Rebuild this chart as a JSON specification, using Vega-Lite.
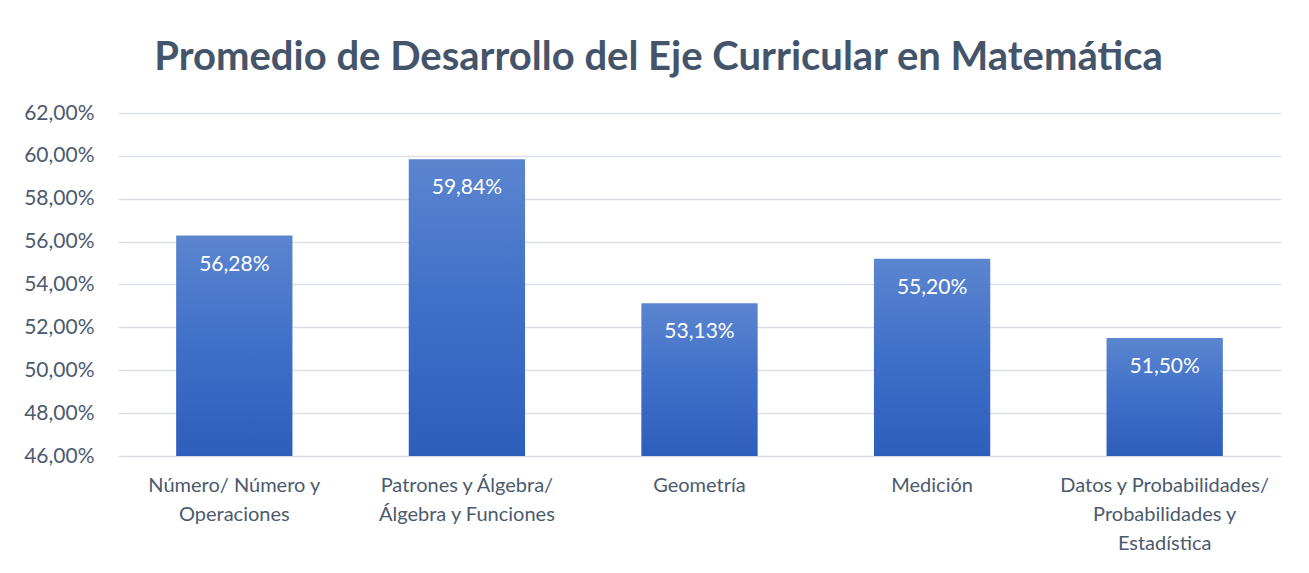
{
  "$schema": "https://vega.github.io/schema/vega-lite/v6.json",
  "autosize": {"type": "none"},
  "width": 1163,
  "height": 343,
  "padding": {"left": 118, "top": 113, "right": 28, "bottom": 117},
  "background": "white",
  "config": {
    "locale": {"number": {"decimal": ",", "thousands": ".", "grouping": [3], "currency": ["", " €"]}},
    "view": {"stroke": null},
    "font": "Lato"
  },
  "title": {
    "text": "Promedio de Desarrollo del Eje Curricular en Matemática",
    "font": "Lato",
    "fontSize": 40,
    "fontWeight": "bold",
    "color": "#44546A",
    "anchor": "middle",
    "baseline": "alphabetic",
    "offset": -8,
    "dx": -41
  },
  "data": {
    "values": [
      {"eje": "Número/ Número y|Operaciones", "promedio": 0.5628},
      {"eje": "Patrones y Álgebra/|Álgebra y Funciones", "promedio": 0.5984},
      {"eje": "Geometría", "promedio": 0.5313},
      {"eje": "Medición", "promedio": 0.552},
      {"eje": "Datos y Probabilidades/|Probabilidades y|Estadística", "promedio": 0.515}
    ]
  },
  "encoding": {
    "x": {
      "field": "eje",
      "type": "nominal",
      "sort": null,
      "scale": {"paddingInner": 0.5, "paddingOuter": 0.25},
      "axis": {
        "title": null,
        "labelAngle": 0,
        "labelExpr": "split(datum.label, '|')",
        "labelFont": "Lato",
        "labelFontSize": 20,
        "labelColor": "#4B5A6E",
        "labelLineHeight": 29,
        "labelPadding": 19,
        "labelBaseline": "top",
        "domain": false,
        "ticks": false,
        "labelLimit": 300
      }
    },
    "y": {
      "field": "promedio",
      "type": "quantitative",
      "scale": {"domain": [0.46, 0.62], "zero": false, "nice": false},
      "axis": {
        "title": null,
        "values": [0.46, 0.48, 0.5, 0.52, 0.54, 0.56, 0.58, 0.6, 0.62],
        "format": ".2%",
        "labelFont": "Lato",
        "labelFontSize": 21,
        "labelColor": "#4B5A6E",
        "labelPadding": 24,
        "domain": false,
        "ticks": false,
        "gridColor": "#DCE0E6",
        "gridWidth": 1.5
      }
    }
  },
  "layer": [
    {
      "mark": {
        "type": "bar",
        "color": {
          "gradient": "linear",
          "x1": 0, "y1": 0, "x2": 0, "y2": 1,
          "stops": [
            {"offset": 0, "color": "#5B85CF"},
            {"offset": 0.5, "color": "#3F6FC8"},
            {"offset": 1, "color": "#2E5EBB"}
          ]
        }
      },
      "encoding": {"y2": {"datum": 0.46}}
    },
    {
      "mark": {"type": "text", "baseline": "top", "dy": 18, "color": "white", "font": "Lato", "fontSize": 21},
      "encoding": {"text": {"field": "promedio", "type": "quantitative", "format": ".2%"}}
    }
  ]
}
